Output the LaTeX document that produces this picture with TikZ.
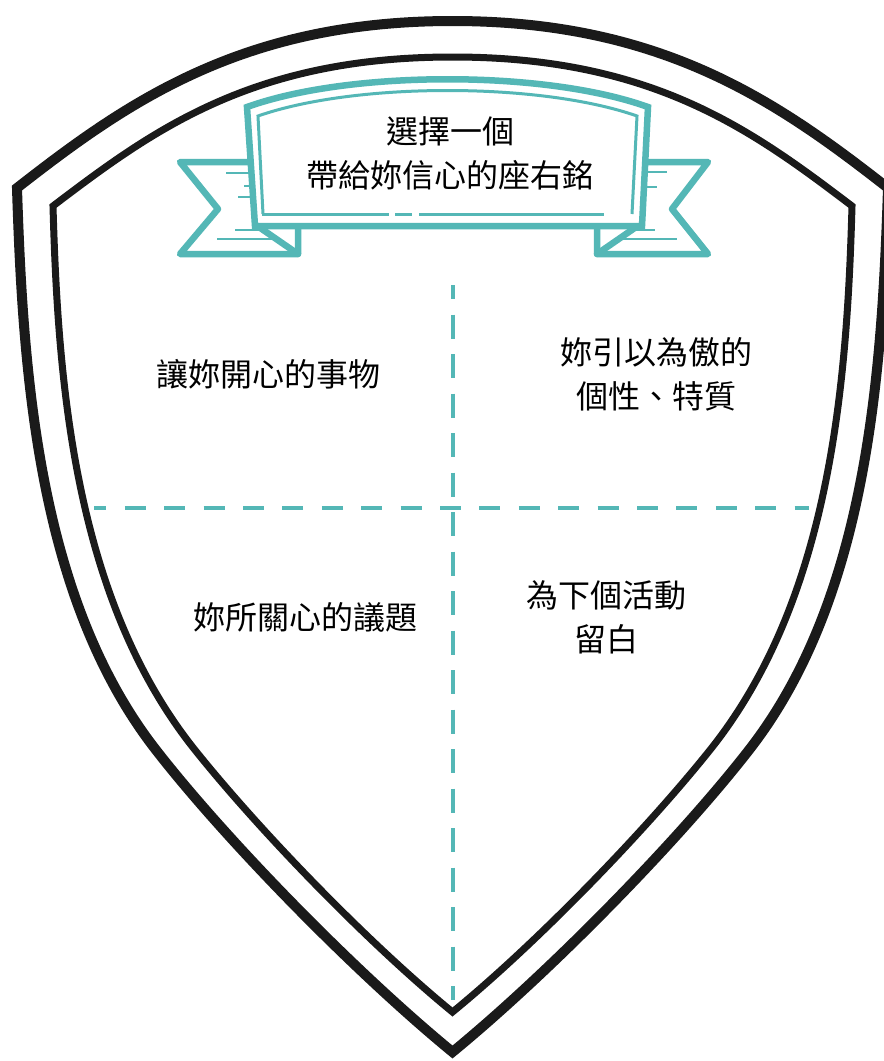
\documentclass[tikz,border=0pt]{standalone}
\usepackage{fontspec}
\newfontfamily\cjk{Noto Sans CJK TC}
\definecolor{bannerteal}{RGB}{84,183,182}
\definecolor{shieldblack}{RGB}{26,26,26}
\begin{document}
\begin{tikzpicture}[x=1pt,y=-1pt,
  outershield/.style={draw=shieldblack,line width=10pt,line join=miter,miter limit=10},
  innershield/.style={draw=shieldblack,line width=7pt,line join=miter,miter limit=10},
  thickteal/.style={draw=bannerteal,line width=6.5pt,line join=round,line cap=round},
  thinteal/.style={draw=bannerteal,line width=3pt,line cap=butt},
  speedline/.style={draw=bannerteal,line width=2.8pt},
  gridline/.style={draw=bannerteal,line width=4pt},
  label/.style={font=\cjk\fontsize{32}{44}\selectfont,text=black,align=center,inner sep=0pt}
]
\useasboundingbox (0,0) rectangle (884,1061);
\fill[white] (0,0) rectangle (884,1061);

% outer shield
\draw[outershield] (17,188) .. controls (127,102) and (242.5,21) .. (452.5,21)
  .. controls (662.5,21) and (778,102) .. (888,188)
  .. controls (882,378) and (866,600) .. (749,750)
  .. controls (679,840) and (550,972) .. (452.5,1052)
  .. controls (355,972) and (226,840) .. (156,750)
  .. controls (39,600) and (23,378) .. (17,188) -- cycle;
% inner shield
\draw[innershield] (53,206) .. controls (153,130) and (252.5,57) .. (452.5,57)
  .. controls (652.5,57) and (752,130) .. (852,206)
  .. controls (847,386) and (830,600) .. (710,750)
  .. controls (646,830) and (538,942) .. (452.5,1012)
  .. controls (367,942) and (259,830) .. (195,750)
  .. controls (75,600) and (58,386) .. (53,206) -- cycle;

% dashed dividers
\coordinate (vtop) at (452.5,285);
\coordinate (vbot) at (452.5,1000);
\coordinate (hleft) at (94,508);
\coordinate (hright) at (809,508);
\draw[gridline,dash pattern=on 24pt off 15.5pt,dash phase=10pt] (vtop) -- (vbot);
\draw[gridline,dash pattern=on 21pt off 18.4pt,dash phase=8.6pt] (hleft) -- (hright);

% banner tails
\filldraw[thickteal,fill=white] (250,162) -- (180,162) -- (218,209) -- (180,254) -- (298,254) -- (298,226);
\draw[thickteal] (256,225) -- (298,254);
\filldraw[thickteal,fill=white] (645,162) -- (708,162) -- (672,209) -- (708,254) -- (597,254) -- (597,226);
\draw[thickteal] (639,225) -- (597,254);
% speed lines
\draw[speedline] (226,173) -- (250,173);
\draw[speedline] (244,186) -- (252,186);
\draw[speedline] (238,197) -- (253,197);
\draw[speedline] (235,230) -- (261,230);
\draw[speedline] (217,239) -- (273,239);
\draw[speedline] (643,172) -- (667,172);
\draw[speedline] (643,187) -- (657,187);
\draw[speedline] (631,230) -- (655,230);
\draw[speedline] (618,239) -- (677,239);

% banner main frame
\filldraw[thickteal,fill=white,line join=miter] (247,107) .. controls (350,70) and (545,70) .. (648,107)
  -- (642,226) -- (255,226) -- cycle;
\draw[thinteal] (263,214) -- (258,116) .. controls (355,82) and (540,82) .. (637,116) -- (632,214);
\draw[thinteal] (262,214) -- (389,214);
\draw[thinteal] (395,214) -- (412,214);
\draw[thinteal] (419,214) -- (604,214);

% texts
\node[label] (motto) at (450,153) {選擇一個\\帶給妳信心的座右銘};
\node[label] (happy) at (268,374) {讓妳開心的事物};
\node[label] (proud) at (656,374) {妳引以為傲的\\個性、特質};
\node[label] (issue) at (305,617) {妳所關心的議題};
\node[label] (blank) at (606,617) {為下個活動\\留白};
\end{tikzpicture}
\end{document}
